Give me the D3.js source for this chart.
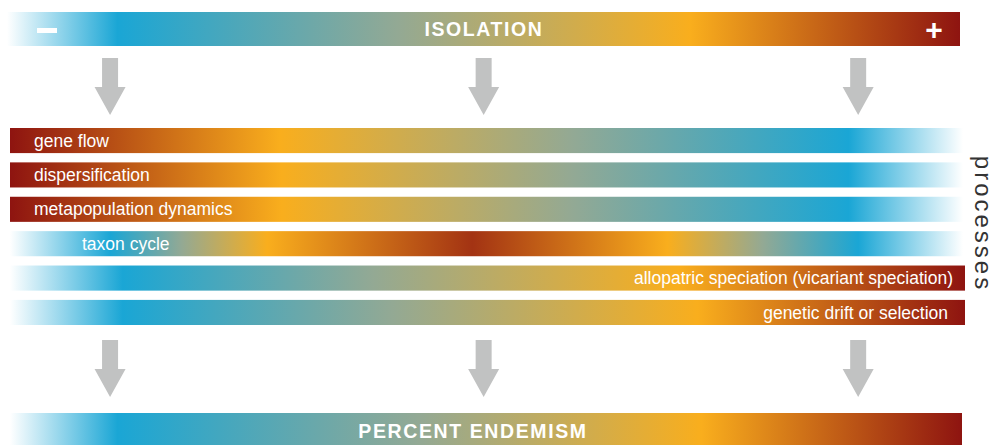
<!DOCTYPE html>
<html>
<head>
<meta charset="utf-8">
<script src="https://cdn.jsdelivr.net/npm/d3@7"></script>
<style>
  body { margin: 0; background: #fff; }
  svg { display: block; font-family: "Liberation Sans", Arial, sans-serif; }
</style>
</head>
<body>
<div id="chart"></div>
<script>
/* Isolation -> processes -> percent endemism gradient diagram */

// colour ramp: level 0 = low isolation (white), 4 = high isolation (dark red)
const levels = [0, 1, 2, 3, 4];
const levelColors = ["#ffffff", "#1aa6d5", "#93a994", "#f9ae1d", "#8e1410"];

// gradient anchors for each bar: [percent along bar, level]
const isolationStops = [[0, 0], [11.6, 1], [41, 2], [71.7, 3], [100, 4]];
const geneFlowStops = [[0, 4], [28.3, 3], [59, 2], [88, 1], [100, 0]];
const dispersificationStops = [[0, 4], [28.5, 3], [59, 2], [88, 1], [100, 0]];
const metapopulationStops = [[0, 4], [28.5, 3], [59, 2], [88, 1], [100, 0]];
const taxonCycleStops = [[0, 0], [10.5, 1], [18, 2], [27, 3], [48.5, 3.8], [69, 3], [79, 2], [89, 1], [100, 0]];
const allopatricStops = [[0, 0], [11.8, 1], [38, 2], [70, 3], [100, 4]];
const driftStops = [[0, 0], [11.8, 1], [40, 2], [72, 3], [100, 4]];
const endemismStops = [[0, 0], [11.3, 1], [43, 2], [72.6, 3], [100, 4]];

const processes = [
    "gene flow",
    "dispersification",
    "metapopulation dynamics",
    "taxon cycle",
    "allopatric speciation (vicariant speciation)",
    "genetic drift or selection"
];
const processStops = [geneFlowStops, dispersificationStops, metapopulationStops,
                      taxonCycleStops, allopatricStops, driftStops];

// arrows sit at these points of the isolation axis (percent)
const arrowAt = [10.5, 49.7, 89];

const width = 991,
      height = 445;

let svg = d3.select("#chart")
    .append("svg")
    .attr("width", width)
    .attr("height", height)
    .attr("viewBox", [0, 0, width, height]);

let color = d3.scaleLinear()
    .domain(levels)
    .range(levelColors);

let x = d3.scaleLinear()
    .domain([0, 100])
    .range([10, 963]);

let y = d3.scaleBand()
    .domain(processes)
    .range([128, 325])
    .paddingInner(0.27);

let defs = svg.append("defs");

function gradient(id, stops) {
    let g = defs.append("linearGradient")
        .attr("id", id)
        .attr("x1", "0%").attr("x2", "100%")
        .attr("y1", "0%").attr("y2", "0%");
    g.selectAll("stop")
        .data(stops)
        .join("stop")
        .attr("offset", d => d[0] + "%")
        .attr("stop-color", d => color(d[1]));
    return "url(#" + id + ")";
}

/* top bar: isolation */
svg.append("rect")
    .attr("x", x(0) - 3)
    .attr("width", x(100) - x(0))
    .attr("y", 12)
    .attr("height", 34)
    .attr("fill", gradient("g-isolation", isolationStops));

svg.append("text")
    .text("ISOLATION")
    .attr("x", 484)
    .attr("y", 29)
    .attr("dy", "0.35em")
    .attr("text-anchor", "middle")
    .attr("fill", "#fff")
    .attr("font-weight", "bold")
    .attr("font-size", 19.5)
    .attr("letter-spacing", 1.6);

svg.append("rect") // minus sign
    .attr("x", 37).attr("y", 28)
    .attr("width", 20).attr("height", 5)
    .attr("fill", "#fff");

svg.append("text")
    .text("+")
    .attr("x", 934)
    .attr("y", 29)
    .attr("dy", "0.35em")
    .attr("text-anchor", "middle")
    .attr("fill", "#fff")
    .attr("font-weight", "bold")
    .attr("font-size", 30);

/* arrows */
function arrows(top) {
    svg.append("g")
        .selectAll("path")
        .data(arrowAt)
        .join("path")
        .attr("fill", "#c1c2c2")
        .attr("d", d => {
            let cx = x(d);
            return `M${cx - 8},${top} H${cx + 8} V${top + 29} H${cx + 15.5}
                    L${cx},${top + 57} L${cx - 15.5},${top + 29} H${cx - 8} Z`;
        });
}
arrows(58);
arrows(340);

/* process bars */
let bar = svg.selectAll(".bar")
    .data(processes)
    .join("g")
    .attr("class", "bar");

bar.append("rect")
    .attr("x", x(0))
    .attr("width", (d, i) => (i >= 4 ? x(100) + 2 : x(100)) - x(0))
    .attr("y", d => y(d))
    .attr("height", y.bandwidth())
    .attr("fill", (d, i) => gradient("g-proc" + i, processStops[i]));

bar.append("text")
    .text(d => d)
    .attr("x", (d, i) => i < 3 ? 34 : i === 3 ? 82 : i === 4 ? 953 : 948)
    .attr("y", d => y(d) + y.bandwidth() / 2)
    .attr("dy", "0.35em")
    .attr("text-anchor", (d, i) => i >= 4 ? "end" : "start")
    .attr("fill", "#fff")
    .attr("font-size", 17.5);

svg.append("text")
    .text("processes")
    .attr("transform", "translate(974.5,224) rotate(90)")
    .attr("text-anchor", "middle")
    .attr("fill", "#333")
    .attr("font-size", 24)
    .attr("letter-spacing", 3);

/* bottom bar: percent endemism */
svg.append("rect")
    .attr("x", x(0))
    .attr("width", x(100) - x(0) - 1)
    .attr("y", 413)
    .attr("height", 34)
    .attr("fill", gradient("g-endemism", endemismStops));

svg.append("text")
    .text("PERCENT ENDEMISM")
    .attr("x", 473)
    .attr("y", 431)
    .attr("dy", "0.35em")
    .attr("text-anchor", "middle")
    .attr("fill", "#fff")
    .attr("font-weight", "bold")
    .attr("font-size", 19.5)
    .attr("letter-spacing", 1.6);
</script>
</body>
</html>
